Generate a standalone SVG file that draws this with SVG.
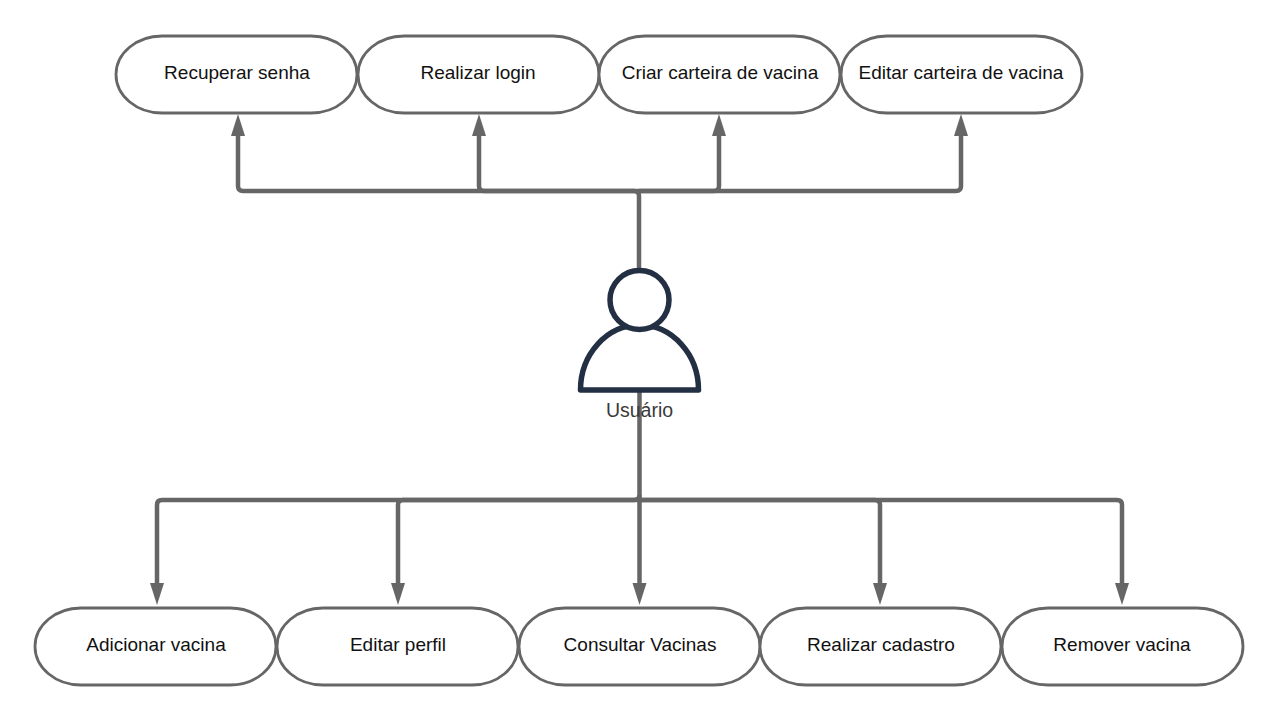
<svg xmlns="http://www.w3.org/2000/svg" width="1280" height="721" viewBox="0 0 1280 721">
<style>
.pill{fill:#fff;stroke:#666;stroke-width:2.800}
.t{font-family:"Liberation Sans",Arial,sans-serif;font-size:19px;fill:#111;text-anchor:middle}
.c{fill:none;stroke:#666;stroke-width:4.500;stroke-linejoin:round}
.p{fill:#fff;stroke:#232f42;stroke-width:5.500;stroke-linejoin:round}
</style>
<defs>
<marker id="a" markerUnits="userSpaceOnUse" markerWidth="24" markerHeight="16" refX="0" refY="8" orient="auto"><path d="M0 1L22 8L0 15Z" fill="#666"/></marker>
</defs>
<rect width="1280" height="721" fill="#fff"/>
<g id="connectors">
<path class="c" d="M639 270V196Q639 191 634 191H243Q238 191 238 186V136" marker-end="url(#a)"/>
<path class="c" d="M639 191H484Q479 191 479 186V136" marker-end="url(#a)"/>
<path class="c" d="M639 191H714Q719 191 719 186V136" marker-end="url(#a)"/>
<path class="c" d="M639 191H956Q961 191 961 186V136" marker-end="url(#a)"/>
<path class="c" d="M639.500 390V495Q639.500 500 634 500H162Q157 500 157 505V583" marker-end="url(#a)"/>
<path class="c" d="M639.500 500H403Q398 500 398 505V583" marker-end="url(#a)"/>
<path class="c" d="M639.500 495V583" marker-end="url(#a)"/>
<path class="c" d="M639.500 500H875Q880 500 880 505V583" marker-end="url(#a)"/>
<path class="c" d="M639.500 500H1117Q1122 500 1122 505V583" marker-end="url(#a)"/>
</g>
<g id="n1"><rect class="pill" x="116" y="36" width="241" height="77" rx="46" ry="38.500"/><text class="t" x="237" y="79">Recuperar senha</text></g>
<g id="n2"><rect class="pill" x="358" y="36" width="241" height="77" rx="46" ry="38.500"/><text class="t" x="478" y="79">Realizar login</text></g>
<g id="n3"><rect class="pill" x="599" y="36" width="241" height="77" rx="46" ry="38.500"/><text class="t" x="720" y="79">Criar carteira de vacina</text></g>
<g id="n4"><rect class="pill" x="841" y="36" width="241" height="77" rx="46" ry="38.500"/><text class="t" x="961" y="79">Editar carteira de vacina</text></g>
<g id="n5"><rect class="pill" x="35" y="608" width="241" height="77" rx="46" ry="38.500"/><text class="t" x="156" y="651">Adicionar vacina</text></g>
<g id="n6"><rect class="pill" x="277" y="608" width="241" height="77" rx="46" ry="38.500"/><text class="t" x="398" y="651">Editar perfil</text></g>
<g id="n7"><rect class="pill" x="519" y="608" width="241" height="77" rx="46" ry="38.500"/><text class="t" x="640" y="651">Consultar Vacinas</text></g>
<g id="n8"><rect class="pill" x="760" y="608" width="241" height="77" rx="46" ry="38.500"/><text class="t" x="881" y="651">Realizar cadastro</text></g>
<g id="n9"><rect class="pill" x="1002" y="608" width="241" height="77" rx="46" ry="38.500"/><text class="t" x="1122" y="651">Remover vacina</text></g>
<g id="user">
<path class="p" d="M580.500 390A59 65 0 0 1 698.500 390Z"/>
<circle class="p" cx="639.500" cy="300" r="29.500"/>
<text x="639.500" y="417" font-family="'Liberation Sans',Arial,sans-serif" font-size="19.500" fill="#3a3a3a" text-anchor="middle">Usuário</text>
</g>
</svg>
